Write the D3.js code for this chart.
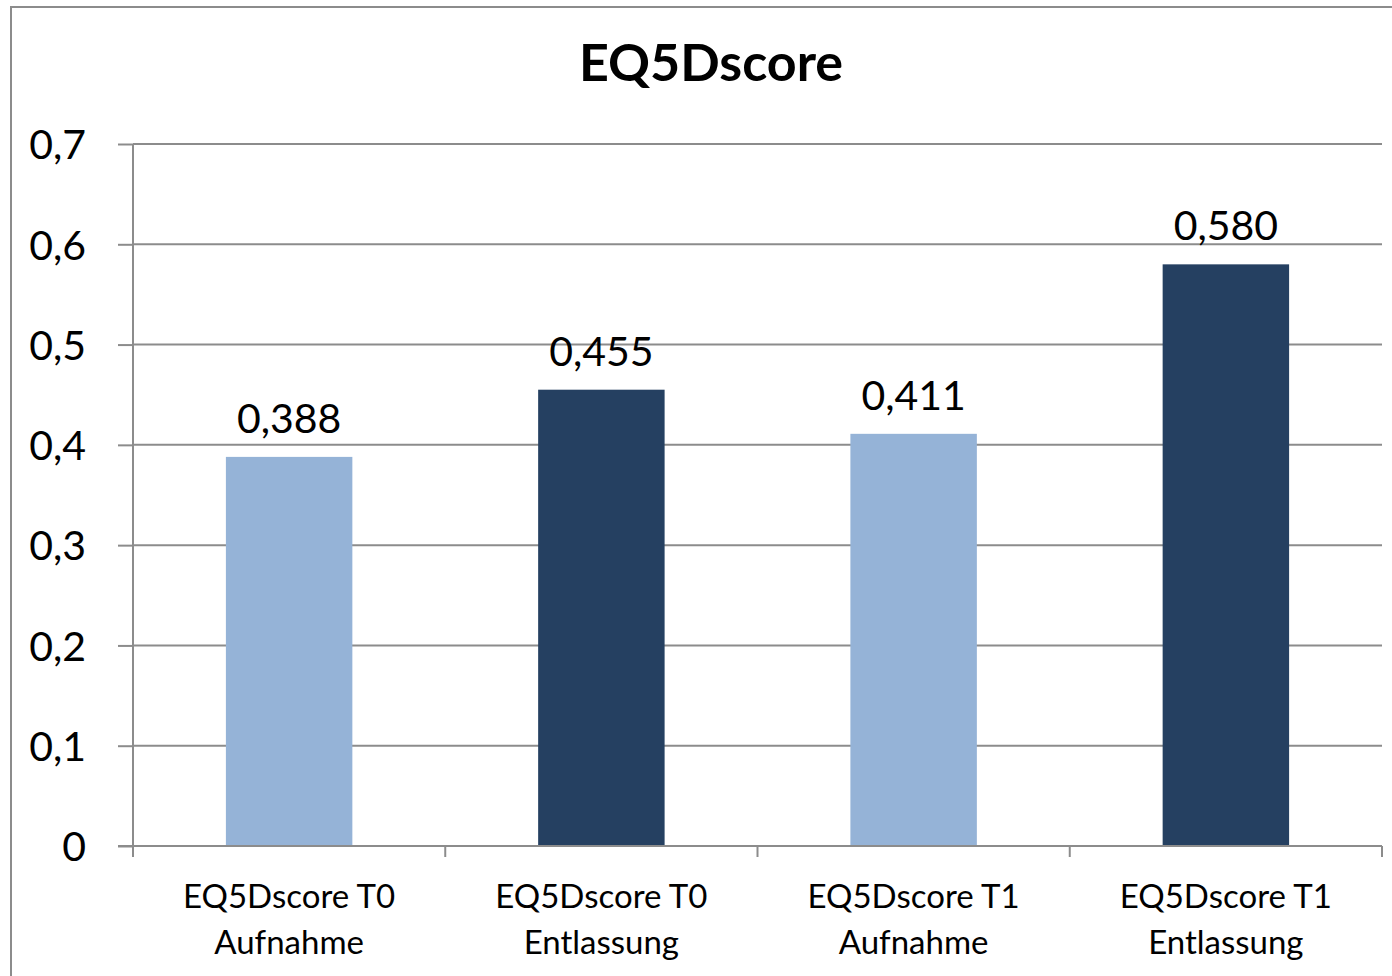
<!DOCTYPE html>
<html>
<head>
<meta charset="utf-8">
<script src="https://cdn.jsdelivr.net/npm/d3@7"></script>
<style>
  html, body { margin: 0; padding: 0; background: #fff; }
  svg { display: block; font-family: Lato, "Open Sans", sans-serif; }
</style>
</head>
<body>
<svg id="chart" width="1392" height="976"></svg>
<script>
// EQ-5D index scores at admission and discharge for two measurement points
const categories = [
  ["EQ5Dscore T0", "Aufnahme"],
  ["EQ5Dscore T0", "Entlassung"],
  ["EQ5Dscore T1", "Aufnahme"],
  ["EQ5Dscore T1", "Entlassung"]
];
const values = [0.388, 0.455, 0.411, 0.580];
const barColors = ["#95B3D7", "#254061", "#95B3D7", "#254061"];
const yTicks = [0, 0.1, 0.2, 0.3, 0.4, 0.5, 0.6, 0.7];
const title = "EQ5Dscore";

const svg = d3.select("#chart");
const plotLeft = 133, plotRight = 1382, plotTop = 144, plotBottom = 846;
const gray = "#8c8c8c";
const comma = v => d3.format(".3f")(v).replace(".", ",");
const tickFmt = v => (v === 0 ? "0" : d3.format(".1f")(v).replace(".", ","));

// outer frame
svg.append("rect")
  .attr("x", 11).attr("y", 7).attr("width", 1400).attr("height", 990)
  .attr("fill", "none").attr("stroke", gray).attr("stroke-width", 2);

// title
svg.append("text")
  .attr("x", 711).attr("y", 81)
  .attr("text-anchor", "middle")
  .attr("font-weight", "bold").attr("font-size", 52)
  .attr("fill", "#000")
  .text(title);

const idx = categories.map((d, i) => i);
const pad = 0.595;
const x = d3.scaleBand().domain(idx).range([plotLeft, plotRight])
  .paddingInner(pad).paddingOuter(pad / 2);
const y = d3.scaleLinear().domain([0, 0.7]).range([plotBottom, plotTop]);

// gridlines
svg.append("g").selectAll("line")
  .data(yTicks.filter(t => t > 0))
  .join("line")
  .attr("x1", plotLeft).attr("x2", plotRight)
  .attr("y1", d => y(d)).attr("y2", d => y(d))
  .attr("stroke", gray).attr("stroke-width", 2);

// bars
svg.append("g").selectAll("rect")
  .data(values)
  .join("rect")
  .attr("x", (d, i) => x(i))
  .attr("width", x.bandwidth())
  .attr("y", d => y(d))
  .attr("height", d => y(0) - y(d))
  .attr("fill", (d, i) => barColors[i]);

// value labels
svg.append("g").selectAll("text")
  .data(values)
  .join("text")
  .attr("x", (d, i) => x(i) + x.bandwidth() / 2)
  .attr("y", d => y(d) - 24)
  .attr("text-anchor", "middle")
  .attr("font-size", 41)
  .attr("fill", "#000")
  .text(d => comma(d));

// y axis
const yAxis = svg.append("g")
  .attr("transform", `translate(${plotLeft},0)`)
  .call(d3.axisLeft(y).tickValues(yTicks).tickFormat(tickFmt).tickSize(15).tickPadding(32));
yAxis.select(".domain").attr("stroke", gray).attr("stroke-width", 2)
  .attr("d", `M0,${plotTop}V${plotBottom + 11}`);
yAxis.selectAll(".tick line").attr("stroke", gray).attr("stroke-width", 2);
yAxis.selectAll(".tick text")
  .attr("font-size", 41).attr("font-family", "Lato, sans-serif")
  .attr("fill", "#000").attr("dy", "0.36em");

// x axis baseline with ticks at category boundaries
const step = x.step();
const bounds = idx.map(i => x(i) - step * pad / 2).concat([plotRight]);
svg.append("line")
  .attr("x1", plotLeft - 15).attr("x2", plotRight)
  .attr("y1", plotBottom).attr("y2", plotBottom)
  .attr("stroke", gray).attr("stroke-width", 2);
svg.append("g").selectAll("line")
  .data(bounds)
  .join("line")
  .attr("x1", d => d).attr("x2", d => d)
  .attr("y1", plotBottom).attr("y2", plotBottom + 11)
  .attr("stroke", gray).attr("stroke-width", 2);

// category labels
const cat = svg.append("g").selectAll("text")
  .data(categories)
  .join("text")
  .attr("text-anchor", "middle")
  .attr("font-size", 33)
  .attr("fill", "#000");
cat.each(function(d, i) {
  const cx = x(i) + x.bandwidth() / 2;
  d3.select(this).selectAll("tspan")
    .data(d)
    .join("tspan")
    .attr("x", cx)
    .attr("y", (t, j) => 908 + j * 46)
    .text(t => t);
});
</script>
</body>
</html>
